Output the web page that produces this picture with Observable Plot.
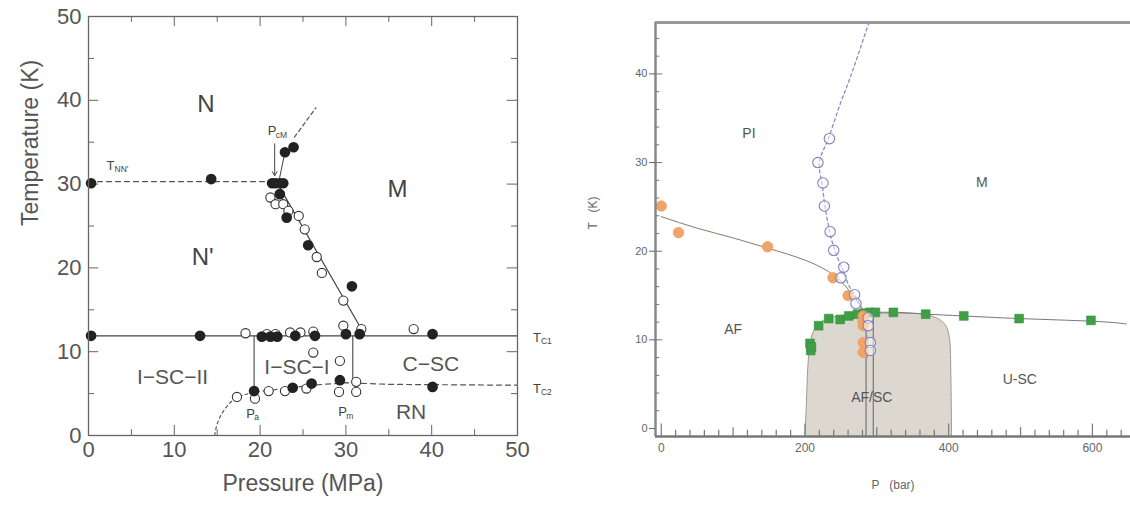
<!DOCTYPE html>
<html><head><meta charset="utf-8">
<script src="https://cdn.jsdelivr.net/npm/d3@7"></script>
<script src="https://cdn.jsdelivr.net/npm/@observablehq/plot@0.6"></script>
<style>
body{margin:0;background:#fff;}
#wrap{position:relative;width:1130px;height:505px;overflow:hidden;background:#fff;}
#left{position:absolute;left:0;top:0;}
#right{position:absolute;left:560px;top:0;}
</style></head><body><div id="wrap"><div id="left"></div><div id="right"></div></div>
<script>
// ================= LEFT PANEL DATA (Pressure MPa, Temperature K) =================
const leftFilledP = [0.3, 0.3, 14.3, 21.4, 21.8, 22.3, 22.7, 22.3, 22.9, 23.9, 23.1, 25.6, 30.7, 13.0, 20.2, 21.2, 22.0, 24.1, 26.4, 30.0, 31.6, 40.1, 19.3, 23.8, 26.0, 29.3, 40.1];
const leftFilledT = [11.9, 30.1, 30.6, 30.1, 30.1, 30.1, 30.1, 28.8, 33.8, 34.4, 26.0, 22.7, 17.8, 11.9, 11.8, 11.8, 11.8, 11.9, 11.9, 12.1, 12.1, 12.1, 5.3, 5.7, 6.2, 6.6, 5.8];
const leftOpenP = [21.2, 21.8, 22.7, 23.3, 24.5, 25.2, 26.6, 27.2, 29.7, 31.8, 29.7, 18.3, 20.8, 21.8, 23.5, 24.7, 26.2, 37.9, 26.2, 29.3, 31.2, 29.2, 31.2, 17.3, 19.4, 21.0, 22.9, 25.4];
const leftOpenT = [28.4, 27.6, 27.6, 26.8, 26.2, 24.6, 21.3, 19.4, 16.1, 12.7, 13.1, 12.2, 12.1, 12.1, 12.3, 12.3, 12.4, 12.7, 9.9, 8.9, 6.4, 5.2, 5.2, 4.6, 4.4, 5.3, 5.3, 5.6];
// boundaries
const tc1P = [0, 50], tc1T = [11.9, 11.9];
const tc2P = [19.3, 22, 26, 30, 35, 50], tc2T = [5.2, 5.5, 6.0, 6.3, 6.1, 6.0];
const paCurveP = [14.7, 15.0, 15.6, 16.4, 17.3, 18.3, 19.3], paCurveT = [0, 1.4, 2.7, 3.8, 4.5, 4.9, 5.2];
const tnnP = [0, 21.5], tnnT = [30.3, 30.3];
const slopeP = [21.9, 32.2], slopeT = [30.3, 12.0];
const pcmSolidP = [22.2, 22.9, 23.9], pcmSolidT = [30.4, 33.8, 34.4];
const pcmDashP = [24.0, 26.5], pcmDashT = [35.6, 39.1];
const vertP = [19.3, 30.8], vertLowT = [5.2, 6.3], vertHighT = [11.9, 11.9];
const leftRegionNames = ["N", "N'", "M"], leftRegionP = [13.7, 13.3, 36.0], leftRegionT = [39.5, 21.3, 29.4];
const leftPhaseNames = ["I\u2212SC\u2212II", "I\u2212SC\u2212I", "C\u2212SC", "RN"], leftPhaseP = [9.8, 24.3, 39.9, 37.6], leftPhaseT = [7.0, 8.1, 8.5, 2.8];
const leftSubMain = ["T", "P", "T", "T", "P", "P"];
const leftSubText = ["NN'", "cM", "C1", "C2", "a", "m"];
const leftSubP = [2.1, 20.9, 51.8, 51.8, 18.4, 29.1];
const leftSubT = [32.2, 36.3, 11.7, 5.6, 2.6, 2.8];
const leftXTicks = [0, 10, 20, 30, 40, 50];
const leftYTicks = [0, 10, 20, 30, 40, 50];
const leftMinor = [5, 15, 25, 35, 45];

// ================= RIGHT PANEL DATA (P bar, T K) =================
const orangeP = [0, 24, 148, 239, 260, 281, 281, 281, 281, 281];
const orangeT = [25.1, 22.1, 20.5, 17.0, 15.0, 12.7, 12.1, 11.6, 9.7, 8.6];
const purpleP = [234, 218, 225, 227, 235, 240, 254, 250, 269, 271, 288, 288, 291, 291];
const purpleT = [32.7, 30.0, 27.7, 25.1, 22.2, 20.1, 18.2, 17.0, 15.1, 14.1, 12.5, 11.6, 9.7, 8.8];
const greenP = [207, 208, 209, 219, 233, 249, 261, 273, 282, 290, 298, 323, 368, 421, 498, 598];
const greenT = [9.6, 8.8, 9.2, 11.6, 12.4, 12.3, 12.7, 12.9, 13.0, 13.1, 13.1, 13.1, 12.9, 12.7, 12.4, 12.2];
const orangeFitP = [0, 50, 100, 150, 200, 240, 265, 284];
const orangeFitT = [23.9, 22.6, 21.5, 20.3, 19.0, 17.3, 15.2, 13.0];
const purpleFitP = [289, 263, 249, 233, 220, 224, 228, 235, 242, 252, 262, 273, 283, 287];
const purpleFitT = [45.8, 39.6, 36.6, 32.8, 30.0, 27.5, 25.0, 22.0, 20.0, 18.0, 16.0, 14.5, 12.6, 8.0];
const greenFitP = [290, 330, 370, 420, 500, 600, 647];
const greenFitT = [13.1, 13.1, 12.9, 12.7, 12.4, 12.1, 11.8];
const domeP = [200, 202, 204, 207, 212, 222, 240, 265, 290, 340, 365, 385, 396, 401, 403, 404];
const domeT = [-0.9, 3, 7, 9.5, 11.0, 12.0, 12.6, 12.9, 13.0, 13.0, 12.9, 12.4, 11.6, 10.2, 6, -0.9];
const afscLinesP = [285, 295];
const rightNames = ["PI", "M", "AF", "AF/SC", "U-SC"];
const rightNameP = [122, 446, 100, 293, 499];
const rightNameT = [33.3, 27.8, 11.2, 3.5, 5.5];
const rightXTicks = [0, 200, 400, 600];
const rightYTicks = [0, 10, 20, 30, 40];
const rightMinorY = [2, 4, 6, 8, 12, 14, 16, 18, 22, 24, 26, 28, 32, 34, 36, 38, 42, 44];
const rightMinorX = [20, 40, 60, 80, 120, 140, 160, 180, 220, 240, 260, 280, 320, 340, 360, 380, 420, 440, 460, 480, 520, 540, 560, 580, 620, 640];
const rightMidX = [100, 300, 500];

// ---------- helpers ----------
const zip = (xs, ys) => xs.map((x, i) => ({x, y: ys[i]}));
const FONT = "Liberation Sans, Arial, Helvetica, sans-serif";

// ================= LEFT PLOT =================
const left = Plot.plot({
  width: 560, height: 505,
  marginLeft: 88, marginRight: 43, marginTop: 16, marginBottom: 70,
  x: {domain: [0, 50]}, y: {domain: [0, 50]},
  style: {color: "#555", fontFamily: FONT, background: "transparent", overflow: "visible"},
  marks: [
    // inward ticks
    Plot.ruleX(leftXTicks.slice(1, -1), {x: d => d, y1: 0, y2: 1.2, stroke: "#666"}),
    Plot.ruleX(leftMinor, {x: d => d, y1: 0, y2: 0.7, stroke: "#666"}),
    Plot.ruleX(leftXTicks.slice(1, -1), {x: d => d, y1: 50, y2: 48.8, stroke: "#666"}),
    Plot.ruleX(leftMinor, {x: d => d, y1: 50, y2: 49.3, stroke: "#666"}),
    Plot.ruleY(leftYTicks.slice(1, -1), {y: d => d, x1: 0, x2: 1.2, stroke: "#666"}),
    Plot.ruleY(leftMinor, {y: d => d, x1: 0, x2: 0.7, stroke: "#666"}),
    Plot.ruleY(leftYTicks.slice(1, -1), {y: d => d, x1: 50, x2: 48.8, stroke: "#666"}),
    Plot.ruleY(leftMinor, {y: d => d, x1: 50, x2: 49.3, stroke: "#666"}),
    Plot.axisX({ticks: leftXTicks, tickSize: 0, tickPadding: 6, fontSize: 22, label: null}),
    Plot.axisY({ticks: leftYTicks, tickSize: 0, tickPadding: 7, fontSize: 22, label: null}),
    // boundaries
    Plot.line(zip(tc1P, tc1T), {x: "x", y: "y", stroke: "#444", strokeWidth: 1.2}),
    Plot.line(zip(tc2P, tc2T), {x: "x", y: "y", stroke: "#555", strokeWidth: 1.2, strokeDasharray: "5,4"}),
    Plot.line(zip(paCurveP, paCurveT), {x: "x", y: "y", stroke: "#555", strokeWidth: 1.1, strokeDasharray: "3,3", curve: "natural"}),
    Plot.line(zip(tnnP, tnnT), {x: "x", y: "y", stroke: "#555", strokeWidth: 1.2, strokeDasharray: "5,4"}),
    Plot.line(zip(slopeP, slopeT), {x: "x", y: "y", stroke: "#444", strokeWidth: 1.2}),
    Plot.line(zip(pcmSolidP, pcmSolidT), {x: "x", y: "y", stroke: "#444", strokeWidth: 1}),
    Plot.line(zip(pcmDashP, pcmDashT), {x: "x", y: "y", stroke: "#555", strokeWidth: 1.2, strokeDasharray: "4,3"}),
    Plot.link(vertP.map((p, i) => ({p, lo: vertLowT[i], hi: vertHighT[i]})), {x1: "p", x2: "p", y1: "lo", y2: "hi", stroke: "#555", strokeWidth: 1.2}),
    Plot.arrow([{p: 21.7, a: 34.8, b: 31.0}], {x1: "p", x2: "p", y1: "a", y2: "b", stroke: "#444", strokeWidth: 1, headLength: 7}),
    // points
    Plot.dot(zip(leftOpenP, leftOpenT), {x: "x", y: "y", r: 4.6, stroke: "#333", strokeWidth: 1.1, fill: "white"}),
    Plot.dot(zip(leftFilledP, leftFilledT), {x: "x", y: "y", r: 4.6, fill: "#222", stroke: "#222"}),
    // labels
    Plot.text(leftRegionNames.map((t, i) => ({t, x: leftRegionP[i], y: leftRegionT[i]})), {x: "x", y: "y", text: "t", fontSize: 24, fill: "#444"}),
    Plot.text(leftPhaseNames.map((t, i) => ({t, x: leftPhaseP[i], y: leftPhaseT[i]})), {x: "x", y: "y", text: "t", fontSize: 21, fill: "#555"}),
    Plot.text(leftSubMain.map((t, i) => ({t, x: leftSubP[i], y: leftSubT[i]})), {x: "x", y: "y", text: "t", fontSize: 13, textAnchor: "start", fill: "#444"}),
    Plot.text(leftSubText.map((t, i) => ({t, x: leftSubP[i], y: leftSubT[i]})), {x: "x", y: "y", text: "t", fontSize: 8.5, textAnchor: "start", dx: 8, dy: 4, fill: "#444"}),
    Plot.text(["Temperature (K)"], {text: d => d, frameAnchor: "left", dx: -58, rotate: -90, fontSize: 23, fill: "#555"}),
    Plot.text(["Pressure (MPa)"], {text: d => d, frameAnchor: "bottom", dy: 55, fontSize: 23, fill: "#555"}),
    Plot.frame({stroke: "#666", strokeWidth: 1.3})
  ]
});
document.getElementById("left").append(left);

// ================= RIGHT PLOT =================
const right = Plot.plot({
  width: 570, height: 505,
  marginLeft: 95, marginRight: 0, marginTop: 22, marginBottom: 69,
  x: {domain: [-8, 653]}, y: {domain: [-0.9, 45.8]},
  style: {color: "#666", fontFamily: FONT, background: "transparent", overflow: "visible"},
  marks: [
    // AF/SC dome
    Plot.line(zip(domeP, domeT), {x: "x", y: "y", fill: "#dcd7cf", stroke: "#8a8580", strokeWidth: 0.8, curve: "catmull-rom"}),
    Plot.link(afscLinesP.map(p => ({p})), {x1: "p", x2: "p", y1: -0.9, y2: 12.6, stroke: "#555", strokeWidth: 0.9}),
    // fits
    Plot.line(zip(orangeFitP, orangeFitT), {x: "x", y: "y", stroke: "#8a7a6a", strokeWidth: 1, curve: "natural"}),
    Plot.line(zip(greenFitP, greenFitT), {x: "x", y: "y", stroke: "#777", strokeWidth: 1, curve: "natural"}),
    Plot.line(zip(purpleFitP, purpleFitT), {x: "x", y: "y", stroke: "#8c8cc8", strokeWidth: 1.3, strokeDasharray: "3,3", curve: "catmull-rom"}),
    // points
    Plot.dot(zip(greenP, greenT), {x: "x", y: "y", symbol: "square", r: 5, fill: "#3f9f45", stroke: "#3a8a3f", strokeWidth: 0.5}),
    Plot.dot(zip(orangeP, orangeT), {x: "x", y: "y", r: 5.3, fill: "#f2a466", stroke: "#e89a5c", strokeWidth: 0.6}),
    Plot.dot(zip(purpleP, purpleT), {x: "x", y: "y", r: 5.2, fill: "white", fillOpacity: 0.5, stroke: "#8080c0", strokeWidth: 1.1}),
    // frame edges and ticks
    Plot.ruleY([45.8], {stroke: "#999", strokeWidth: 3}),
    Plot.ruleX([-8], {stroke: "#888", strokeWidth: 2.5}),
    Plot.ruleY([-0.9], {stroke: "#777", strokeWidth: 2.5}),
    Plot.ruleY(rightMinorY, {y: d => d, x1: -8, x2: -2, stroke: "#777"}),
    Plot.ruleY(rightYTicks.slice(1), {y: d => d, x1: -8, x2: 2, stroke: "#777"}),
    Plot.ruleX(rightMinorX, {x: d => d, y1: -0.9, y2: -0.2, stroke: "#777", strokeWidth: 1.2}),
    Plot.ruleX(rightMidX, {x: d => d, y1: -0.9, y2: 0.1, stroke: "#777", strokeWidth: 1.2}),
    Plot.ruleX(rightXTicks, {x: d => d, y1: -0.9, y2: 0.5, stroke: "#777", strokeWidth: 1.2}),
    Plot.axisY({ticks: rightYTicks, tickSize: 6, tickPadding: 2, fontSize: 11, label: null}),
    Plot.axisX({ticks: rightXTicks, tickSize: 0, tickPadding: 7, fontSize: 12, label: null}),
    // labels
    Plot.text(rightNames.map((t, i) => ({t, x: rightNameP[i], y: rightNameT[i]})), {x: "x", y: "y", text: "t", fontSize: 14, fill: "#555"}),
    Plot.text(["T   (K)"], {text: d => d, frameAnchor: "left", dx: -62, rotate: -90, fontSize: 12, fill: "#666"}),
    Plot.text(["P   (bar)"], {text: d => d, frameAnchor: "bottom", dy: 52, fontSize: 12, fill: "#666"})
  ]
});
document.getElementById("right").append(right);
</script>
</body></html>
